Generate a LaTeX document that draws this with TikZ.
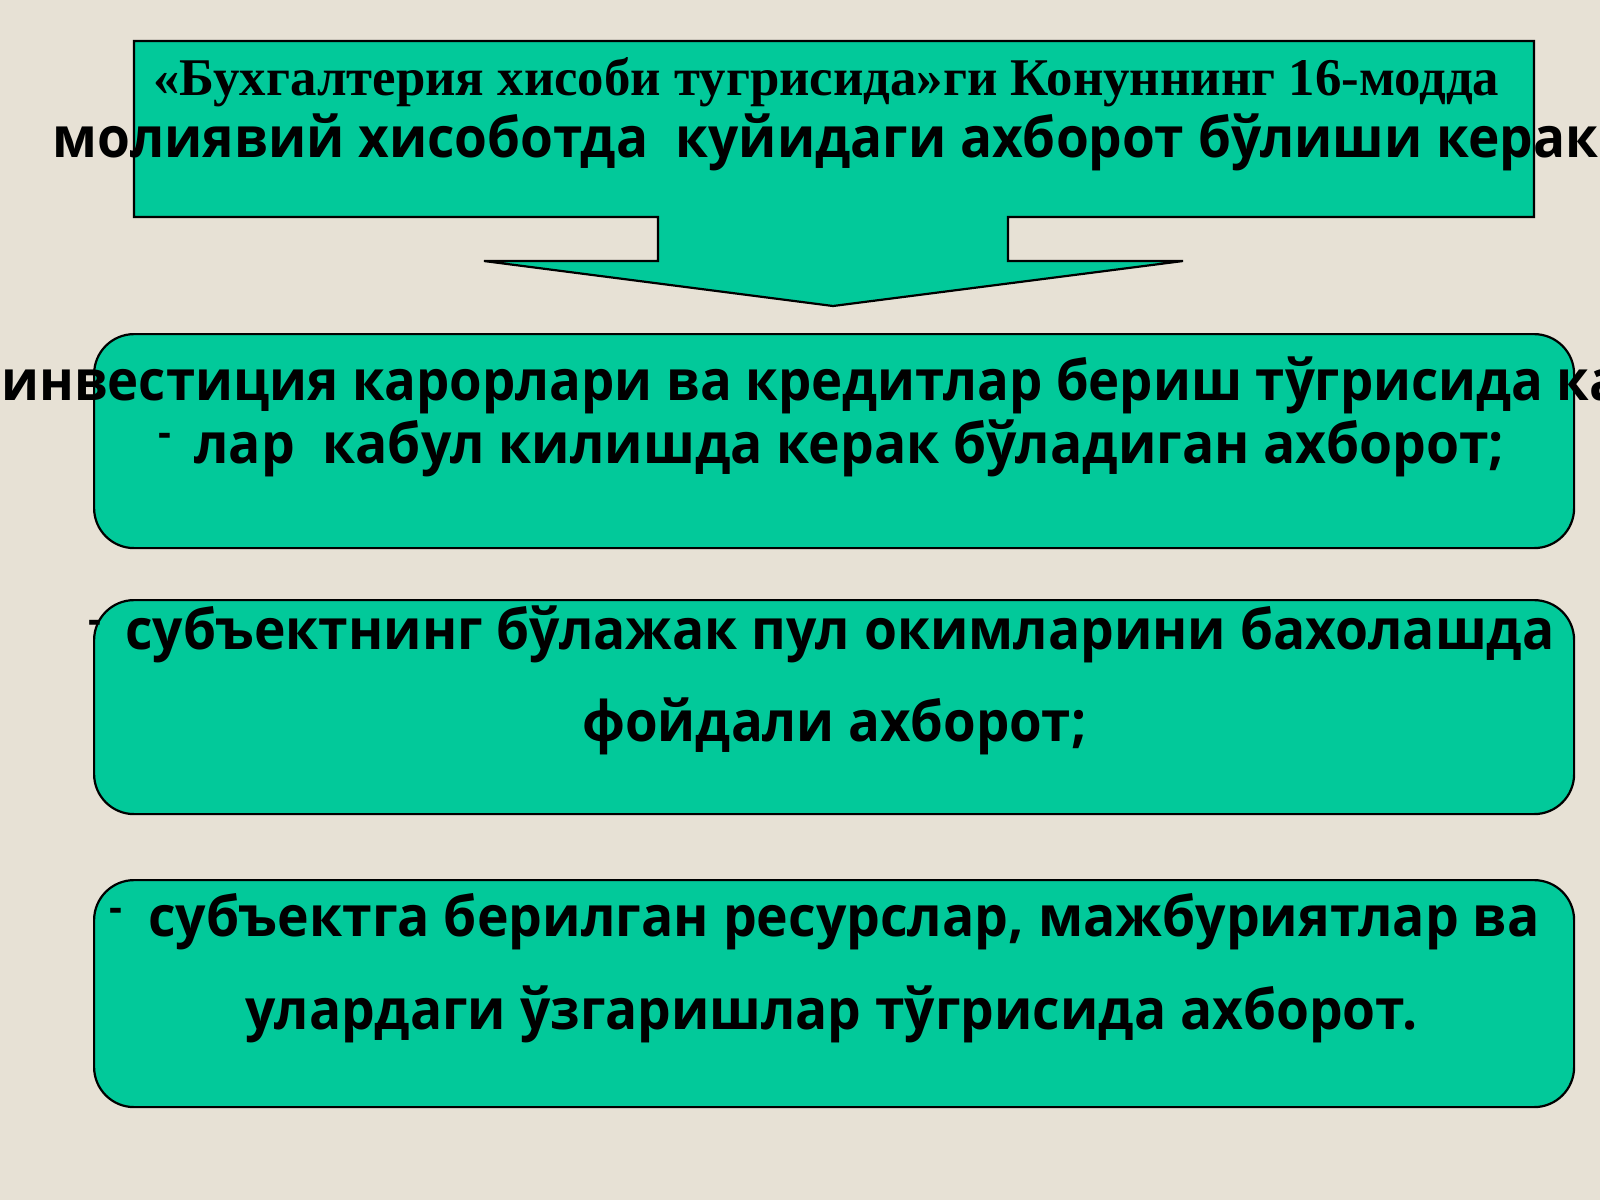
\documentclass[tikz,border=0pt]{standalone}
\usepackage{fontspec}
\usepackage{graphicx}
\setmainfont{Open Sans}
\newfontfamily\serifb{Liberation Serif}
\newfontfamily\sansb{Open Sans}
\definecolor{paper}{HTML}{E7E1D5}
\definecolor{boxgreen}{HTML}{02C99A}
\newlength\natw
\tikzset{
  panel/.style={draw=black, line width=1.1pt, fill=boxgreen, rectangle,
    rounded corners=20pt, inner sep=0pt, anchor=north west,
    minimum width=740pt},
  txt/.style={anchor=base west, inner sep=0pt,
    font=\sansb\bfseries\fontsize{28pt}{28pt}\selectfont},
  stxt/.style={anchor=base west, inner sep=0pt,
    font=\serifb\bfseries\fontsize{26.5pt}{26.5pt}\selectfont},
  dashmark/.style={anchor=base, inner sep=0pt,
    font=\sansb\bfseries\fontsize{20pt}{20pt}\selectfont}
}
\begin{document}
\settowidth\natw{\sansb\bfseries\fontsize{28pt}{28pt}\selectfont лар~ кабул килишда керак бўладиган ахборот;}%
\pgfmathsetmacro\bscale{0.986*655pt/\natw}%
\begin{tikzpicture}[x=0.5pt,y=-0.5pt]
\useasboundingbox (0,0) rectangle (1600,1200);
\fill[paper] (0,0) rectangle (1600,1200);
% header callout with down arrow
\draw[line width=1.1pt, fill=boxgreen, line join=miter]
  (134,41) coordinate (hTL) -- (1534,41) -- (1534,217) -- (1008,217) -- (1008,261)
  -- (1183,261) -- (833,306) coordinate (tip) -- (484,261) -- (658,261) -- (658,217)
  -- (134,217) -- cycle;
\node[stxt] (t1) at (153,95) {\resizebox{673pt}{\height}{«Бухгалтерия хисоби тугрисида»ги Конуннинг 16-модда}};
\node[txt] (t2) at (52,157) {\resizebox{773pt}{\height}{молиявий хисоботда~ куйидаги ахборот бўлиши керак}};
% panels
\node[panel, minimum height=107pt] (p1) at (93,333) {};
\node[panel, minimum height=107pt] (p2) at (93,599) {};
\node[panel, minimum height=113.5pt] (p3) at (93,879) {};
% panel 1 text
\node[txt] (a1) at (1,400) {\scalebox{\bscale}[1]{инвестиция карорлари ва кредитлар бериш тўгрисида ка}};
\node[dashmark] (d1) at (165,446) {-};
\node[txt] (a2) at (194,463) {\resizebox{655pt}{\height}{лар~ кабул килишда керак бўладиган ахборот;}};
% panel 2 text
\node[dashmark] (d2) at (95,633) {-};
\node[txt] (b1) at (125,649) {\resizebox{714.5pt}{\height}{субъектнинг бўлажак пул окимларини бахолашда}};
\node[txt] (b2) at (582,741) {\resizebox{252pt}{\height}{фойдали ахборот;}};
% panel 3 text
\node[dashmark] (d3) at (116,921) {-};
\node[txt] (c1) at (148,936) {\resizebox{695.5pt}{\height}{субъектга берилган ресурслар, мажбуриятлар ва}};
\node[txt] (c2) at (245,1029) {\resizebox{586pt}{\height}{улардаги ўзгаришлар тўгрисида ахборот.}};
\end{tikzpicture}
\end{document}
